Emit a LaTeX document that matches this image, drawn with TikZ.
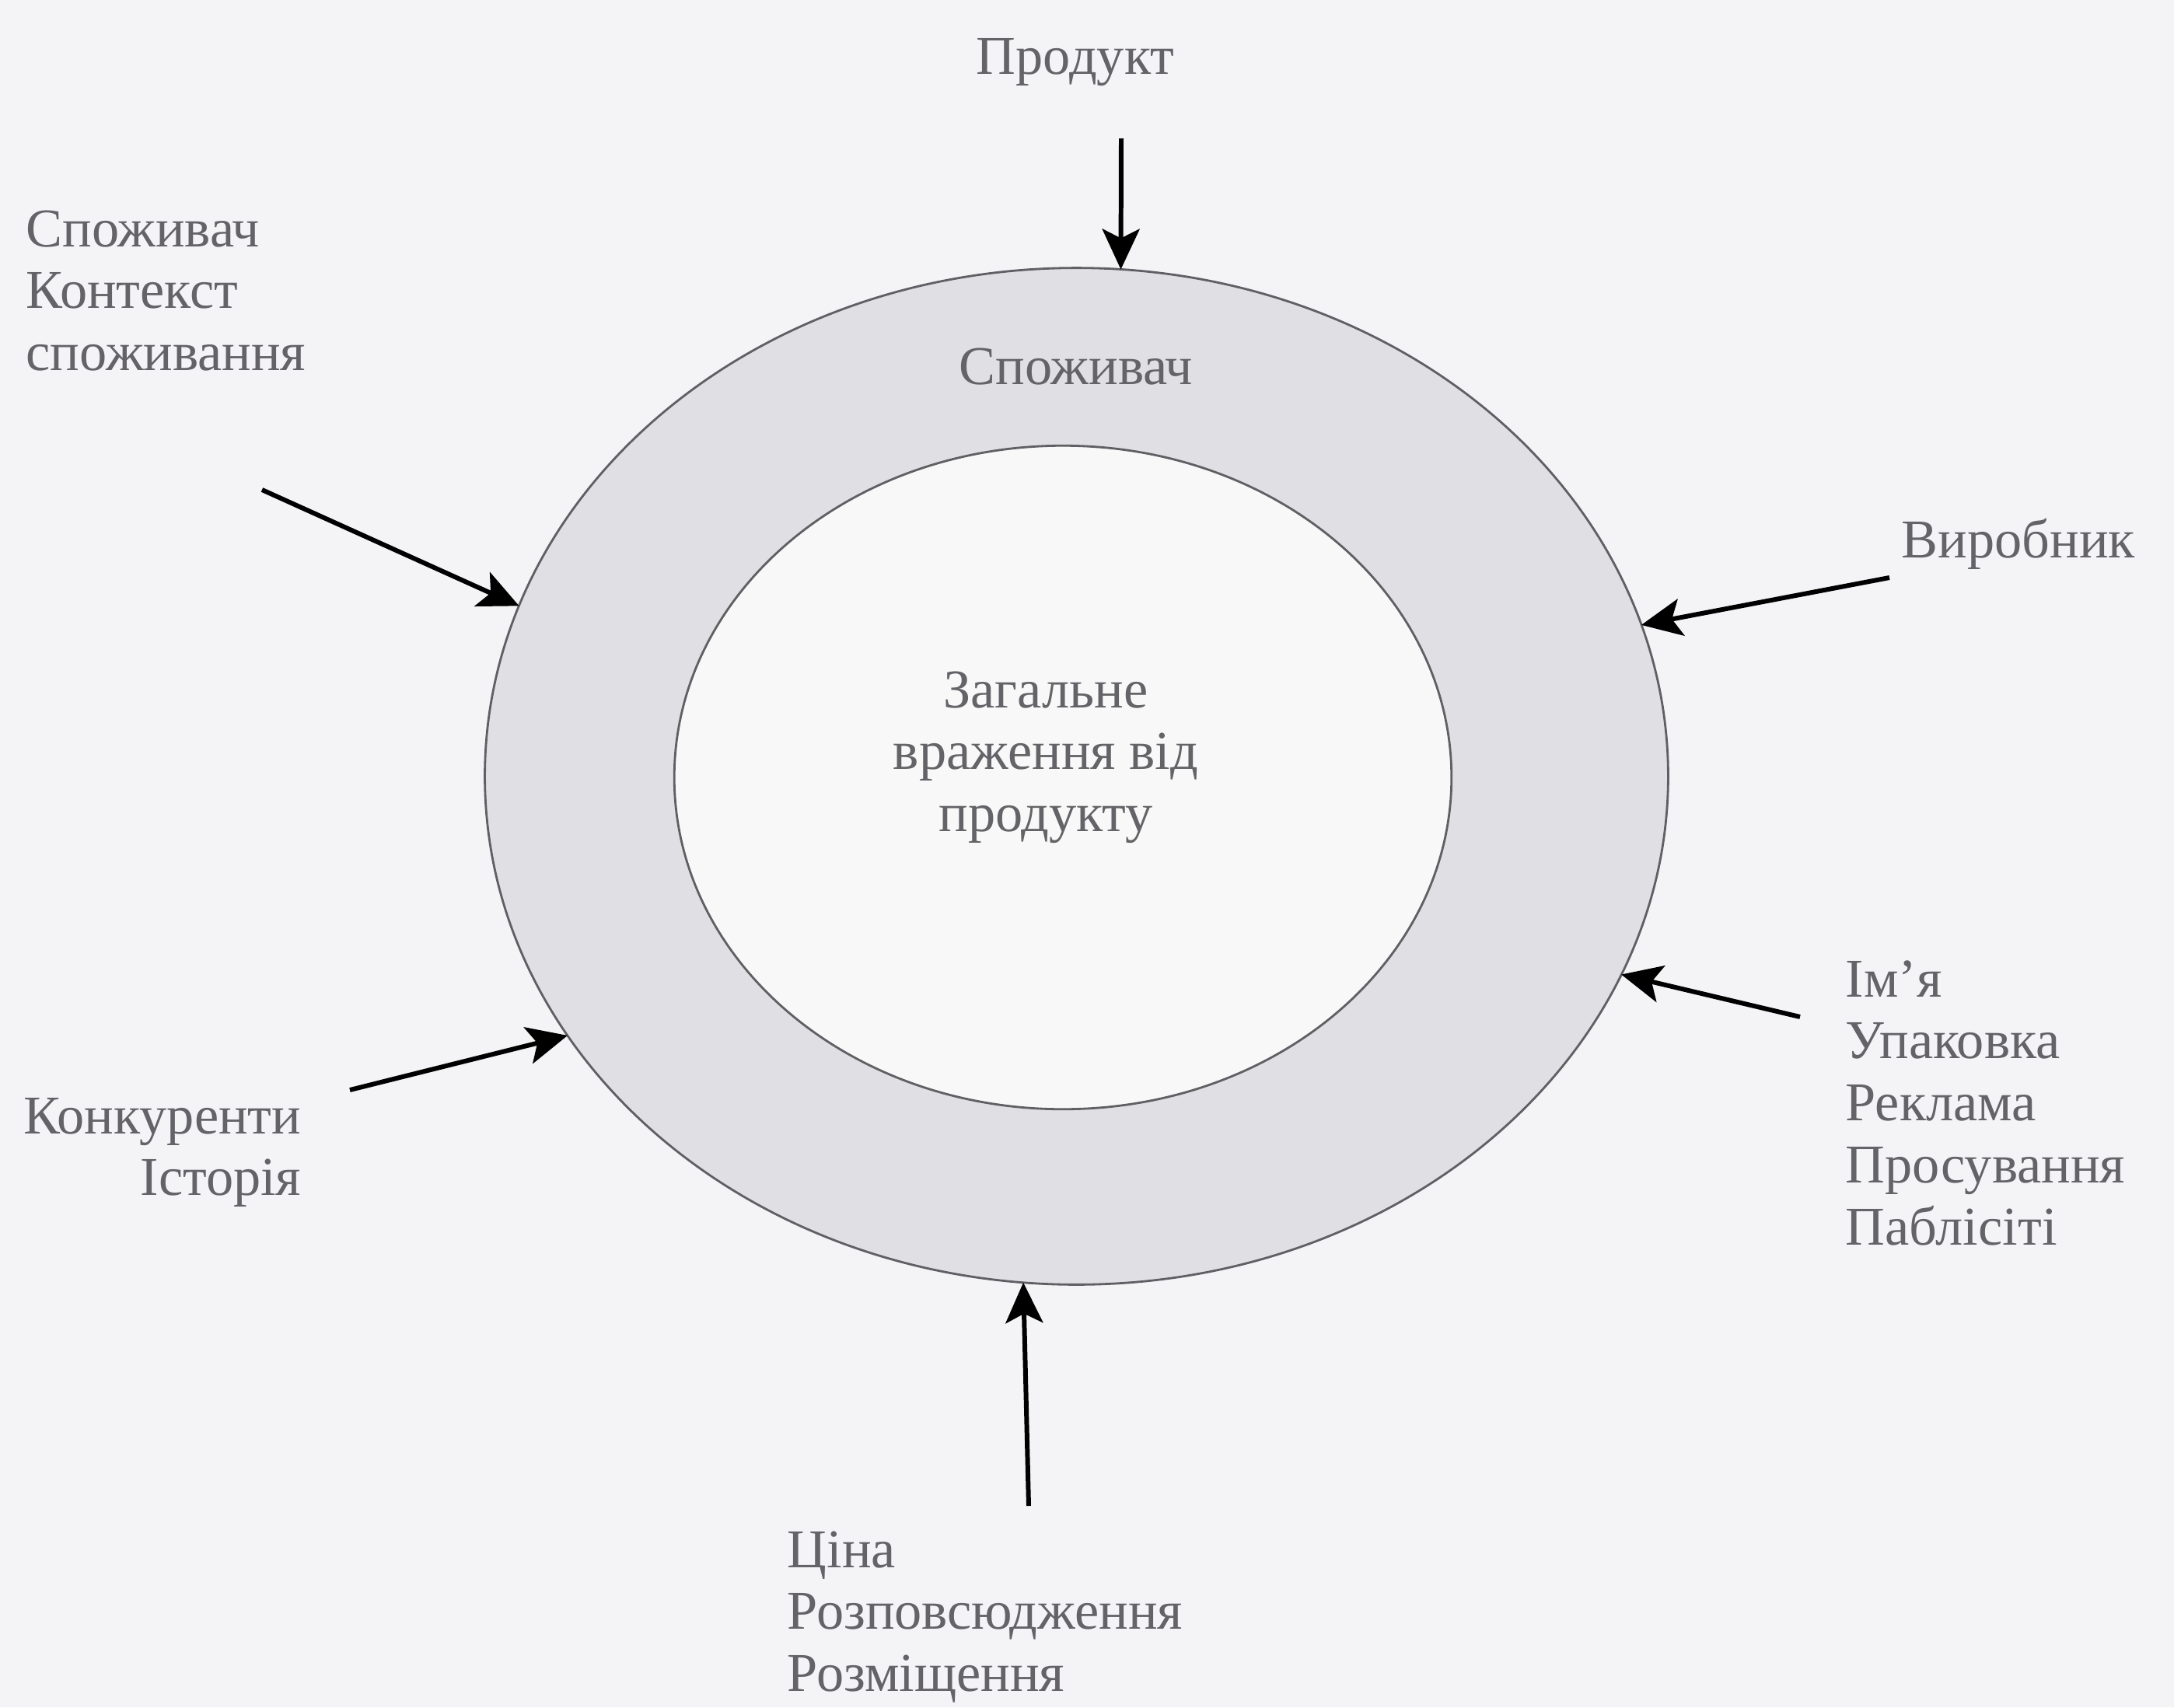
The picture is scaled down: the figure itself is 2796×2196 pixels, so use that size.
\documentclass[tikz,border=0pt]{standalone}
\usepackage{fontspec}
\setmainfont{Liberation Serif}
\usetikzlibrary{shapes.geometric,arrows.meta}
\definecolor{bgc}{RGB}{244,244,247}
\definecolor{ringc}{RGB}{223,223,228}
\definecolor{innerc}{RGB}{248,248,248}
\definecolor{edgec}{RGB}{95,95,100}
\definecolor{txtc}{RGB}{100,100,104}
\begin{document}
\begin{tikzpicture}[x=0.01cm,y=-0.01cm,
  lbl/.style={inner sep=0pt, text=txtc, font=\fontsize{20}{22.7}\selectfont},
  ring/.style={ellipse, draw=edgec, line width=0.8pt, inner sep=0pt, outer sep=0pt},
  arr/.style={draw=black, line width=1.7pt, -{Stealth[length=0.52cm,width=0.48cm,inset=0.12cm]}}]
\fill[bgc] (0,0) rectangle (2796,2196);
\useasboundingbox (0,0) rectangle (2796,2196);

\node[ring, fill=ringc, minimum width=15.21cm, minimum height=13.07cm] (outer) at (1384.5,998.5) {};
\node[ring, fill=innerc, minimum width=9.99cm, minimum height=8.53cm] (inner) at (1367,1000) {};

\node[lbl, anchor=base] (prod) at (1383,95) {Продукт};
\node[lbl, anchor=base west] (cons) at (33,317) {\begin{tabular}[t]{@{}l@{}}Споживач\\Контекст\\споживання\end{tabular}};
\node[lbl, anchor=base] (ringlbl) at (1384,494) {Споживач};
\node[lbl, anchor=base west] (maker) at (2445,717) {Виробник};
\node[lbl, anchor=base] (center) at (1345,910) {\begin{tabular}[t]{@{}c@{}}Загальне\\враження від\\продукту\end{tabular}};
\node[lbl, anchor=base west] (name) at (2373,1282) {\begin{tabular}[t]{@{}l@{}}Ім'я\\Упаковка\\Реклама\\Просування\\Паблісіті\end{tabular}};
\node[lbl, anchor=base east] (comp) at (388,1458) {\begin{tabular}[t]{@{}r@{}}Конкуренти\\Історія\end{tabular}};
\node[lbl, anchor=base west] (price) at (1012,2016) {\begin{tabular}[t]{@{}l@{}}Ціна\\Розповсюдження\\Розміщення\end{tabular}};

\coordinate (sTop) at (1442,178);
\coordinate (sTL) at (337,630);
\coordinate (sLB) at (450,1402);
\coordinate (sR) at (2430,743);
\coordinate (sRB) at (2315,1308);
\coordinate (sB) at (1323,1937);

\draw[arr] (sTop) -- (outer.85);
\draw[arr] (sTL) -- (outer.163.7);
\draw[arr] (sLB) -- (outer.207);
\draw[arr] (sR) -- (outer.15.8);
\draw[arr] (sRB) -- (outer.-20);
\draw[arr] (sB) -- (outer.264.7);
\end{tikzpicture}
\end{document}
